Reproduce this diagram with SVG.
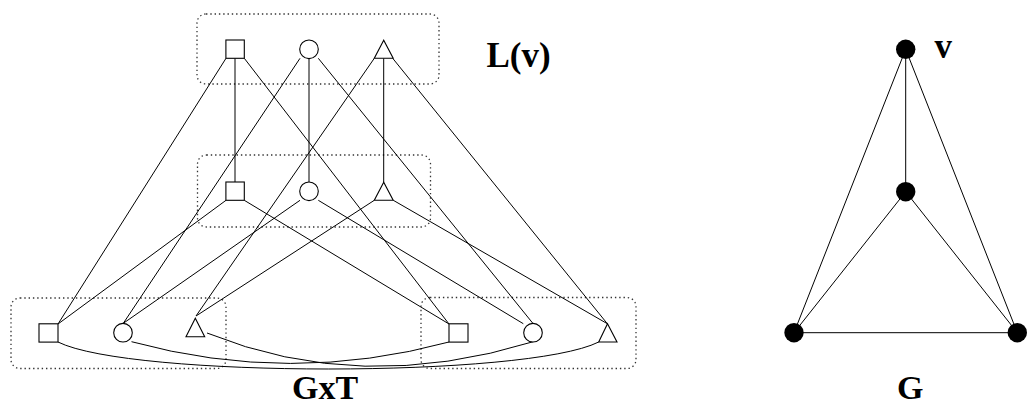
<svg xmlns="http://www.w3.org/2000/svg" width="1027" height="406" viewBox="0 0 1027 406">
<style>
.sh{fill:#fff;stroke:#000;stroke-width:1.1}
.dot{fill:#000}
.box{fill:none;stroke:#333;stroke-width:1.3;stroke-dasharray:1.4 2.9}
.e{fill:none;stroke:#000;stroke-width:1}
.lbl{font-family:"Liberation Serif","Times New Roman",serif;font-weight:bold;font-size:35px;fill:#000}
.lb2{font-size:34px}
</style>
<rect width="1027" height="406" fill="#fff"/>
<g id="clusters">
<rect class="box" x="197" y="14" width="242" height="70" rx="9"/>
<rect class="box" x="197.5" y="155" width="233" height="72" rx="9"/>
<rect class="box" x="11" y="298" width="215" height="70.5" rx="9"/>
<rect class="box" x="421" y="297.5" width="215" height="71" rx="9"/>
</g>
<g id="connectors">
<path class="e" d="M235,58.3V182M309,58.6V182M383.7,58.3V182.3"/>
<path class="e" d="M226,58.3L58,324M300,58.3L123.3,323.3M374.3,58.3L196,316"/>
<path class="e" d="M244.3,58.3L449,324M318.3,58.3L533,323.5M392.7,58.3L607.3,323.7"/>
<path class="e" d="M226,200.3L58,324M300,200.3L123.3,323.3M374.3,200.3L196,316"/>
<path class="e" d="M244.3,200.3L449,324M318.3,200.3L523.3,323.7M393.3,200.3L607.3,323.7"/>
<path class="e" d="M58,342C130,378 527,378 598.7,342"/>
<path class="e" d="M131.5,341.7Q290.5,385 449,342"/>
<path class="e" d="M207,333Q360,395 533.3,341.7"/>
<path class="e" d="M905.7,49.3V191.7M905.7,49.3L794,332.7M905.7,49.3L1017.3,332.7M905.7,191.7L794,332.7M905.7,191.7L1017.3,332.7M794,332.7H1017.3"/>
</g>
<g id="top-square"><rect class="sh" x="225.9" y="40" width="18.4" height="18.3"/></g>
<g id="top-circle"><circle class="sh" cx="309" cy="49.3" r="9.3"/></g>
<g id="top-triangle"><polygon class="sh" points="383.7,40.3 374.3,58.3 393.2,58.3"/></g>
<g id="mid-square"><rect class="sh" x="225.9" y="182" width="18.4" height="18.3"/></g>
<g id="mid-circle"><circle class="sh" cx="309" cy="191.3" r="9.3"/></g>
<g id="mid-triangle"><polygon class="sh" points="383.7,182.3 374.3,200.3 393.2,200.3"/></g>
<g id="bl-square"><rect class="sh" x="39" y="323.8" width="19" height="18.3"/></g>
<g id="bl-circle"><circle class="sh" cx="123" cy="332.7" r="9.3"/></g>
<g id="bl-triangle"><polygon class="sh" points="195.3,318.3 186,336.7 204.7,336.7"/></g>
<g id="br-square"><rect class="sh" x="449" y="323.8" width="19" height="18.3"/></g>
<g id="br-circle"><circle class="sh" cx="533" cy="332.7" r="9.3"/></g>
<g id="br-triangle"><polygon class="sh" points="607.5,323.7 598.7,342 617,342"/></g>
<g id="g-v"><circle class="dot" cx="905.7" cy="49.3" r="9.7"/></g>
<g id="g-mid"><circle class="dot" cx="905.7" cy="191.7" r="9.7"/></g>
<g id="g-bl"><circle class="dot" cx="794" cy="332.7" r="9.7"/></g>
<g id="g-br"><circle class="dot" cx="1017.3" cy="332.7" r="9.7"/></g>
<g id="labels">
<text class="lbl" x="486.5" y="66.7">L(v)</text>
<text class="lbl lb2" x="292" y="399">GxT</text>
<text class="lbl lb2" x="897" y="399">G</text>
<text class="lbl" x="934.5" y="58.3">v</text>
</g>
</svg>
